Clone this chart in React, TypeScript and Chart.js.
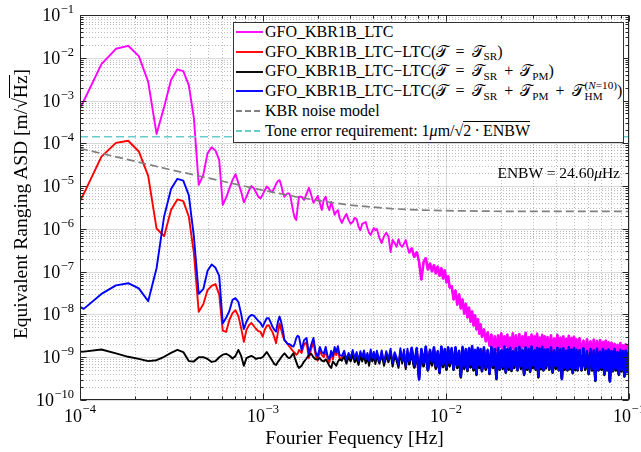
import React, { useEffect, useRef } from 'react';
import { Chart, registerables } from 'chart.js';

Chart.register(...registerables);

// ---------------- data ----------------
// frequency resolution of the spectra (Hz per bin)
const BIN_WIDTH_HZ = 2.62e-5;

// frequency bins (index k, f = k * BIN_WIDTH_HZ)
const FREQ_BINS = [
  3, 4, 5, 6, 7, 8, 9, 10, 11, 12, 13, 14, 15, 16, 17, 18, 19, 20, 21, 22, 23, 24, 25, 26, 27, 28, 29, 30, 31, 32,
  33, 34, 35, 36, 37, 38, 39, 40, 41, 42, 43, 44, 45, 46, 47, 48, 49, 50, 51, 52, 53, 54, 55, 56, 57, 58, 59, 60,
  62, 64, 66, 68, 70, 72, 74, 76, 78, 80, 82, 84, 86, 88, 90, 92, 94, 96, 98, 100,
  103, 106, 109, 112, 115, 118, 121, 124, 127, 130, 133, 136, 139, 142, 145, 148, 151, 154, 157, 160,
  165, 170, 175, 180, 185, 190, 195, 200, 205, 210, 215, 220, 225, 230, 235, 240,
  248, 256, 264, 272, 280, 288, 296, 304, 312, 320, 328, 336, 344, 352, 360, 368, 376, 384, 392, 400,
  410, 420, 430, 440, 450, 460, 470, 480, 490, 500, 510, 520, 530, 540, 550, 560, 570, 580, 590, 600,
  615, 630, 645, 660, 675, 690, 705, 720, 735, 750, 765, 780, 795, 810, 825, 840, 855, 870, 885, 900,
  920, 940, 960, 980, 1000, 1020, 1040, 1060, 1080, 1100, 1120, 1140, 1160, 1180, 1200, 1220, 1240, 1260, 1280, 1300, 1320, 1340,
  1370, 1400, 1430, 1460, 1490, 1520, 1550, 1580, 1610, 1640, 1670, 1700, 1730, 1760, 1790, 1820, 1850, 1880, 1910, 1940, 1970, 2000,
  2050, 2100, 2150, 2200, 2250, 2300, 2350, 2400, 2450, 2500, 2550, 2600, 2650, 2700, 2750, 2800, 2850, 2900, 2950, 3000,
  3060, 3120, 3180, 3240, 3300, 3360, 3420, 3480, 3540, 3600, 3660, 3720, 3780, 3840,
];

// bins from which the spectra form a dense noise band
const DENSE_FROM_BIN = 240;

// log10 of ASD [m/sqrt(Hz)] : GFO_KBR1B_LTC (magenta)
const LTC_LOG_ASD = [
  -4.02, -3.01, -2.15, -1.79, -1.72, -1.96, -2.56, -3.78, -3.15, -2.52,
  -2.27, -2.31, -2.64, -3.41, -4.97, -4.74, -4.23, -4.09, -4.17, -4.39,
  -5.44, -5.27, -5.06, -4.86, -4.72, -4.93, -5.13, -5.38, -5.25, -5.10,
  -5.00, -5.05, -5.15, -5.25, -5.29, -5.20, -5.10, -5.01, -5.05, -5.12,
  -5.13, -5.05, -4.95, -4.88, -4.86, -4.98, -5.15, -5.25, -5.20, -5.17,
  -5.17, -5.25, -5.45, -5.62, -5.75, -5.79, -5.50, -5.25,
  -5.25, -5.32, -5.18, -5.04, -5.20, -5.39, -5.32, -5.23, -5.39, -5.56, -5.32, -5.25, -5.46, -5.56, -5.37, -5.51, -5.67, -5.60, -5.56, -5.74,
  -5.86, -5.74, -5.65, -5.79, -5.88, -5.84, -5.74, -5.77, -5.95, -6.03, -5.88, -5.86, -5.84, -5.98, -6.09, -6.14, -6.05, -5.98, -6.03, -6.00,
  -6.21, -6.33, -6.17, -6.09, -6.17, -6.54, -6.26, -6.33, -6.42, -6.24, -6.38, -6.42, -6.35, -6.26, -6.42, -6.56,
  -6.45, -6.66, -6.54, -6.77, -7.19, -6.77, -6.68, -6.96, -6.80, -7.00, -6.84, -7.05, -6.87, -7.10, -6.91, -7.17, -6.96, -7.26, -7.10, -7.38,
  -7.33, -7.66, -7.43, -7.78, -7.52, -7.87, -7.64, -7.99, -7.74, -8.08, -7.83, -8.18, -7.92, -8.27, -8.01, -8.36, -8.10, -8.46, -8.22, -8.53,
  -8.34, -8.64, -8.41, -8.74, -8.46, -8.81, -8.50, -8.83, -8.48, -8.78, -8.43, -8.83, -8.50, -8.76, -8.46, -8.85, -8.53, -8.81, -8.43, -8.83,
  -8.48, -8.81, -8.45, -8.85, -8.50, -8.78, -8.42, -8.83, -8.52, -8.88, -8.46, -8.80, -8.50, -8.86, -8.44, -8.79, -8.53, -8.84, -8.47, -8.90, -8.50, -8.82,
  -8.52, -8.85, -8.48, -8.88, -8.55, -8.82, -8.47, -8.90, -8.53, -8.84, -8.50, -8.87, -8.56, -8.83, -8.49, -8.91, -8.54, -8.86, -8.51, -8.88, -8.57, -8.85,
  -8.55, -8.88, -8.60, -8.92, -8.57, -8.87, -8.62, -8.93, -8.58, -8.89, -8.61, -8.95, -8.59, -8.90, -8.63, -8.92, -8.60, -8.94, -8.64, -8.91,
  -8.65, -8.94, -8.68, -8.91, -8.70, -8.96, -8.66, -8.93, -8.71, -8.97, -8.69, -8.92, -8.72, -8.95,
];

// LTC - LTC(T = T_SR) (red)
const RES_SR_LOG_ASD = [
  -6.20, -5.18, -4.31, -3.99, -3.94, -4.19, -4.76, -5.99, -6.17, -5.56,
  -5.31, -5.35, -5.71, -6.57, -7.94, -7.76, -7.43, -7.33, -7.29, -7.54,
  -8.38, -8.41, -8.13, -7.97, -7.90, -8.04, -8.32, -8.64, -8.36, -8.25,
  -8.20, -8.27, -8.34, -8.39, -8.41, -8.52, -8.36, -8.27, -8.25, -8.34,
  -8.41, -8.53, -8.67, -8.43, -8.21, -8.36, -8.50, -8.60, -8.64, -8.69,
  -8.74, -8.78, -8.83, -8.87, -8.90, -8.94, -8.92, -8.83,
  -8.90, -8.70, -8.65, -9.02, -8.80, -8.66, -8.95, -9.08, -8.85, -8.95, -9.00, -8.85, -9.03, -9.12, -8.92, -9.05, -8.85, -8.95, -8.82, -9.02,
  -9.02, -8.90, -9.10, -8.94, -9.06, -8.88, -9.08, -8.92, -9.12, -8.90, -9.04, -8.88, -9.09, -8.94, -9.13, -8.86, -9.06, -8.91, -9.10, -8.89,
  -9.12, -8.88, -9.15, -8.90, -9.08, -8.85, -9.16, -8.92, -9.04, -9.20, -8.84, -9.10, -8.86, -9.24, -8.85, -9.12,
  -8.82, -9.22, -8.83, -9.48, -8.84, -9.18, -8.80, -9.28, -8.86, -9.15, -8.81, -9.24, -8.88, -9.33, -8.79, -9.20, -8.84, -9.27, -8.80, -9.18,
  -8.82, -9.26, -8.80, -9.22, -8.87, -9.42, -8.79, -9.24, -8.84, -9.28, -8.82, -9.20, -8.78, -9.29, -8.86, -9.38, -8.81, -9.22, -8.84, -9.30,
  -8.80, -9.27, -8.85, -9.36, -8.79, -9.22, -8.84, -9.46, -8.81, -9.26, -8.86, -9.24, -8.78, -9.33, -8.84, -9.26, -8.81, -9.28, -8.88, -9.22,
  -8.82, -9.28, -8.79, -9.24, -8.85, -9.38, -8.80, -9.27, -8.84, -9.31, -8.78, -9.22, -8.86, -9.26, -8.81, -9.42, -8.83, -9.26, -8.79, -9.28, -8.84, -9.24,
  -8.84, -9.26, -8.80, -9.33, -8.86, -9.24, -8.81, -9.28, -8.84, -9.48, -8.82, -9.27, -8.87, -9.28, -8.80, -9.26, -8.84, -9.34, -8.81, -9.28, -8.85, -9.28,
  -8.85, -9.28, -8.82, -9.27, -8.88, -9.36, -8.84, -9.29, -8.86, -9.50, -8.83, -9.28, -8.89, -9.28, -8.84, -9.38, -8.87, -9.29, -8.85, -9.52,
  -8.87, -9.30, -8.84, -9.30, -8.90, -9.38, -8.86, -9.31, -8.88, -9.42, -8.86, -9.33, -8.91, -9.38,
];

// LTC - LTC(T = T_SR + T_PM) (black)
const RES_SR_PM_LOG_ASD = [
  -8.88, -8.87, -8.82, -8.91, -8.99, -9.04, -9.09, -9.07, -8.99, -8.90,
  -8.83, -8.88, -9.09, -9.10, -9.00, -9.00, -9.04, -9.11, -9.09, -9.00,
  -8.94, -8.92, -8.96, -9.03, -8.97, -8.83, -8.97, -9.20, -9.02, -8.99,
  -8.97, -9.00, -9.04, -9.02, -9.02, -9.00, -8.94, -8.88, -8.95, -9.02,
  -9.09, -9.16, -9.18, -9.11, -9.06, -9.00, -8.95, -8.91, -8.95, -9.00,
  -9.02, -9.00, -8.95, -8.91, -9.02, -9.11, -9.20, -9.25,
  -9.20, -9.10, -9.03, -8.95, -8.92, -9.00, -9.05, -9.05, -9.02, -9.08, -9.10, -9.05, -9.12, -9.20, -9.25, -9.10, -9.15, -9.20, -9.10, -9.05,
  -9.08, -8.98, -9.15, -9.00, -9.10, -8.95, -9.12, -9.02, -9.18, -8.98, -9.10, -8.96, -9.14, -9.00, -9.20, -8.95, -9.10, -8.99, -9.16, -8.97,
  -9.15, -8.95, -9.20, -8.97, -9.12, -8.92, -9.22, -8.98, -9.08, -9.25, -8.90, -9.15, -8.94, -9.28, -8.92, -9.17,
  -8.90, -9.25, -8.92, -9.40, -8.93, -9.22, -8.88, -9.32, -8.95, -9.20, -8.90, -9.28, -8.96, -9.38, -8.88, -9.24, -8.92, -9.30, -8.89, -9.22,
  -8.90, -9.30, -8.88, -9.26, -8.94, -9.48, -8.87, -9.28, -8.92, -9.33, -8.90, -9.25, -8.86, -9.32, -8.93, -9.42, -8.89, -9.26, -8.92, -9.34,
  -8.88, -9.30, -8.93, -9.40, -8.87, -9.26, -8.92, -9.52, -8.89, -9.30, -8.94, -9.28, -8.86, -9.37, -8.92, -9.30, -8.89, -9.33, -8.95, -9.26,
  -8.90, -9.32, -8.87, -9.28, -8.93, -9.42, -8.88, -9.30, -8.92, -9.35, -8.86, -9.26, -8.94, -9.30, -8.89, -9.48, -8.91, -9.29, -8.87, -9.32, -8.92, -9.27,
  -8.92, -9.30, -8.88, -9.37, -8.94, -9.28, -8.89, -9.32, -8.92, -9.50, -8.90, -9.30, -8.95, -9.32, -8.88, -9.29, -8.92, -9.38, -8.89, -9.31, -8.93, -9.32,
  -8.93, -9.32, -8.90, -9.30, -8.96, -9.40, -8.92, -9.32, -8.94, -9.56, -8.91, -9.32, -8.97, -9.30, -8.92, -9.42, -8.95, -9.32, -8.93, -9.55,
  -8.95, -9.34, -8.92, -9.32, -8.98, -9.42, -8.94, -9.34, -8.96, -9.46, -8.94, -9.36, -8.99, -9.42,
];

// LTC - LTC(T = T_SR + T_PM + T_HM(N=10)) (blue)
const RES_SR_PM_HM_LOG_ASD = [
  -7.59, -7.87, -7.52, -7.32, -7.27, -7.39, -7.69, -6.92, -5.71, -5.07,
  -4.83, -4.87, -5.21, -6.18, -7.52, -7.41, -6.98, -6.83, -6.91, -7.10,
  -8.21, -8.08, -7.92, -7.66, -7.62, -7.71, -7.99, -8.34, -8.17, -8.06,
  -8.01, -8.03, -8.09, -8.15, -8.20, -8.29, -8.18, -8.09, -8.09, -8.18,
  -8.29, -8.36, -8.40, -8.18, -8.05, -8.18, -8.36, -8.60, -8.64, -8.69,
  -8.69, -8.71, -8.74, -8.75, -8.67, -8.55, -8.50, -8.52,
  -8.83, -8.60, -8.55, -8.92, -8.71, -8.55, -8.88, -8.99, -8.76, -8.88, -8.92, -8.76, -8.97, -9.04, -8.85, -8.97, -8.76, -8.88, -8.74, -8.95,
  -8.97, -8.85, -9.06, -8.90, -9.02, -8.83, -9.04, -8.88, -9.08, -8.86, -9.00, -8.84, -9.05, -8.90, -9.09, -8.82, -9.02, -8.87, -9.06, -8.85,
  -9.10, -8.84, -9.12, -8.86, -9.05, -8.80, -9.14, -8.88, -9.00, -9.18, -8.79, -9.08, -8.82, -9.22, -8.80, -9.10,
  -8.77, -9.20, -8.78, -9.53, -8.80, -9.15, -8.74, -9.30, -8.82, -9.12, -8.76, -9.22, -8.85, -9.35, -8.74, -9.18, -8.80, -9.25, -8.76, -9.15,
  -8.78, -9.28, -8.76, -9.20, -8.84, -9.45, -8.75, -9.22, -8.80, -9.30, -8.78, -9.18, -8.73, -9.27, -8.82, -9.40, -8.77, -9.20, -8.80, -9.32,
  -8.76, -9.25, -8.82, -9.38, -8.75, -9.20, -8.80, -9.50, -8.77, -9.28, -8.83, -9.22, -8.74, -9.35, -8.80, -9.24, -8.77, -9.30, -8.85, -9.20,
  -8.78, -9.30, -8.75, -9.22, -8.82, -9.40, -8.76, -9.26, -8.80, -9.33, -8.74, -9.20, -8.83, -9.28, -8.77, -9.45, -8.79, -9.24, -8.75, -9.30, -8.81, -9.22,
  -8.80, -9.28, -8.76, -9.35, -8.83, -9.22, -8.77, -9.30, -8.80, -9.52, -8.78, -9.25, -8.84, -9.30, -8.76, -9.24, -8.81, -9.36, -8.77, -9.27, -8.82, -9.30,
  -8.82, -9.30, -8.78, -9.25, -8.85, -9.38, -8.80, -9.28, -8.83, -9.55, -8.79, -9.30, -8.86, -9.26, -8.80, -9.40, -8.84, -9.30, -8.81, -9.58,
  -8.84, -9.32, -8.80, -9.28, -8.87, -9.40, -8.82, -9.30, -8.85, -9.45, -8.83, -9.35, -8.88, -9.40,
];

// KBR noise model (gray dashed)
const KBR_MODEL_FREQ = [1e-4, 1.5e-4, 2e-4, 3e-4, 5e-4, 7e-4, 1e-3, 1.5e-3, 2e-3, 3e-3, 5e-3, 7e-3, 1e-2, 2e-2, 5e-2, 1e-1];
const KBR_MODEL_LOG_ASD = [-4.12, -4.295, -4.42, -4.6, -4.81, -4.95, -5.096, -5.246, -5.339, -5.445, -5.527, -5.557, -5.575, -5.589, -5.592, -5.593];

// Tone error requirement: 1 um / sqrt(2 * ENBW)
const TONE_REQ_FREQ = [1e-4, 1e-1];
const TONE_REQ_ASD = 1.426e-4;

// axes
const X_DECADES = [-4, -3, -2, -1];
const Y_DECADES = [-10, -9, -8, -7, -6, -5, -4, -3, -2, -1];
const MINOR_MULTIPLIERS = [2, 3, 4, 5, 6, 7, 8, 9];

const FONT = '"Liberation Serif", "Times New Roman", serif';
const MINUS = '\u2212';
const LINE_W = 1.9;
const DENSE_LINE_W = 2.5;

function toPoints(logs: number[]) {
  return FREQ_BINS.map((k, i) => ({ x: k * BIN_WIDTH_HZ, y: Math.pow(10, logs[i]) }));
}

const axesPlugin = {
  id: 'matlabAxes',
  beforeDatasetsDraw(chart: any) {
    const { ctx, chartArea: a } = chart;
    const xs = chart.scales.x;
    const ys = chart.scales.y;
    ctx.save();
    ctx.lineWidth = 1;
    const vline = (v: number) => {
      const px = Math.round(xs.getPixelForValue(v)) + 0.5;
      ctx.beginPath();
      ctx.moveTo(px, a.top);
      ctx.lineTo(px, a.bottom);
      ctx.stroke();
    };
    const hline = (v: number) => {
      const py = Math.round(ys.getPixelForValue(v)) + 0.5;
      ctx.beginPath();
      ctx.moveTo(a.left, py);
      ctx.lineTo(a.right, py);
      ctx.stroke();
    };
    // minor grid (dotted)
    ctx.strokeStyle = 'rgba(38,38,38,0.3)';
    ctx.setLineDash([1, 2]);
    X_DECADES.slice(0, -1).forEach((d) => MINOR_MULTIPLIERS.forEach((m) => vline(m * Math.pow(10, d))));
    Y_DECADES.slice(0, -1).forEach((d) => MINOR_MULTIPLIERS.forEach((m) => hline(m * Math.pow(10, d))));
    // major grid
    ctx.setLineDash([]);
    ctx.strokeStyle = 'rgba(38,38,38,0.17)';
    X_DECADES.forEach((d) => vline(Math.pow(10, d)));
    Y_DECADES.forEach((d) => hline(Math.pow(10, d)));
    ctx.restore();
  },
  afterDatasetsDraw(chart: any) {
    const { ctx, chartArea: a } = chart;
    const xs = chart.scales.x;
    const ys = chart.scales.y;
    ctx.save();
    ctx.setLineDash([]);
    ctx.strokeStyle = '#262626';
    ctx.lineWidth = 1;
    const L = Math.round(a.left) + 0.5;
    const R = Math.round(a.right) - 0.5;
    const T = Math.round(a.top) + 0.5;
    const B = Math.round(a.bottom) - 0.5;
    ctx.strokeRect(L, T, R - L, B - T);
    const xtick = (v: number, len: number) => {
      const px = Math.round(xs.getPixelForValue(v)) + 0.5;
      ctx.beginPath();
      ctx.moveTo(px, B);
      ctx.lineTo(px, B - len);
      ctx.moveTo(px, T);
      ctx.lineTo(px, T + len);
      ctx.stroke();
    };
    const ytick = (v: number, len: number) => {
      const py = Math.round(ys.getPixelForValue(v)) + 0.5;
      ctx.beginPath();
      ctx.moveTo(L, py);
      ctx.lineTo(L + len, py);
      ctx.moveTo(R, py);
      ctx.lineTo(R - len, py);
      ctx.stroke();
    };
    X_DECADES.slice(0, -1).forEach((d) => MINOR_MULTIPLIERS.forEach((m) => xtick(m * Math.pow(10, d), 3)));
    Y_DECADES.slice(0, -1).forEach((d) => MINOR_MULTIPLIERS.forEach((m) => ytick(m * Math.pow(10, d), 3)));
    X_DECADES.forEach((d) => xtick(Math.pow(10, d), 6));
    Y_DECADES.forEach((d) => ytick(Math.pow(10, d), 6));

    // tick labels 10^n
    const baseFont = `18px ${FONT}`;
    const supFont = `12.5px ${FONT}`;
    ctx.fillStyle = '#000';
    ctx.textBaseline = 'alphabetic';
    ctx.textAlign = 'left';
    Y_DECADES.forEach((d) => {
      const py = ys.getPixelForValue(Math.pow(10, d));
      const sup = MINUS + Math.abs(d);
      ctx.font = supFont;
      const sw = ctx.measureText(sup).width;
      ctx.font = baseFont;
      const bw = ctx.measureText('10').width;
      const right = a.left - 6;
      ctx.fillText('10', right - sw - bw - 0.5, py + 6);
      ctx.font = supFont;
      ctx.fillText(sup, right - sw, py - 2);
    });
    X_DECADES.forEach((d) => {
      const px = xs.getPixelForValue(Math.pow(10, d));
      const sup = MINUS + Math.abs(d);
      ctx.font = supFont;
      const sw = ctx.measureText(sup).width;
      ctx.font = baseFont;
      const bw = ctx.measureText('10').width;
      const start = px - (sw + bw + 0.5) / 2;
      ctx.fillText('10', start, a.bottom + 21.5);
      ctx.font = supFont;
      ctx.fillText(sup, start + bw + 0.5, a.bottom + 13);
    });
    ctx.restore();
  },
};

const CAL_T = '\u{1D4AF}';

function Sub({ children }: any) {
  return <span style={{ fontSize: '0.7em', position: 'relative', top: '0.32em' }}>{children}</span>;
}

function Op({ children }: any) {
  return <span style={{ margin: '0 0.44em' }}>{children}</span>;
}

function HMTerm() {
  return (
    <span style={{ position: 'relative', display: 'inline-block' }}>
      {CAL_T}
      <span style={{ position: 'relative', display: 'inline-block', marginLeft: 1 }}>
        <span style={{ fontSize: '0.7em', position: 'relative', top: '-0.62em' }}>
          (<i>N</i>=10)
        </span>
        <span style={{ fontSize: '0.7em', position: 'absolute', left: 0, top: '0.42em' }}>HM</span>
      </span>
    </span>
  );
}

function Sample({ y, color, dash }: any) {
  return (
    <svg width={27} height={6} style={{ position: 'absolute', left: 236, top: y - 3 }}>
      <line x1={0} y1={3} x2={27} y2={3} stroke={color} strokeWidth={LINE_W} strokeDasharray={dash} />
    </svg>
  );
}

const LEG_FONT = 16;
function Row({ baseline, children }: any) {
  return (
    <div
      style={{
        position: 'absolute',
        left: 265,
        top: baseline - 0.8375 * LEG_FONT,
        fontSize: LEG_FONT,
        lineHeight: `${LEG_FONT}px`,
        whiteSpace: 'nowrap',
      }}
    >
      {children}
    </div>
  );
}

export default function App() {
  const canvasRef = useRef<HTMLCanvasElement>(null);

  useEffect(() => {
    const canvas = canvasRef.current;
    if (!canvas) return;
    const line = (label: string, data: any[], color: string, extra: any = {}) => ({
      label,
      data,
      borderColor: color,
      backgroundColor: color,
      borderWidth: LINE_W,
      pointRadius: 0,
      fill: false,
      tension: 0,
      borderJoinStyle: 'round',
      ...extra,
    });
    const denseStart = FREQ_BINS.findIndex((k) => k >= DENSE_FROM_BIN);
    // each spectrum: full trace plus a heavier stroke over its dense (noise-band) part
    const spectrum = (label: string, logs: number[], color: string) => {
      const pts = toPoints(logs);
      return [
        line(label + ' (band)', pts.slice(denseStart), color, { borderWidth: DENSE_LINE_W, borderJoinStyle: 'bevel' }),
        line(label, pts, color),
      ];
    };
    const chart = new Chart(canvas, {
      type: 'line',
      data: {
        datasets: [
          line('Tone error requirement', TONE_REQ_FREQ.map((f) => ({ x: f, y: TONE_REQ_ASD })), '#66CCCC', { borderDash: [8, 4], borderWidth: 1.7 }),
          line('KBR noise model', KBR_MODEL_FREQ.map((f, i) => ({ x: f, y: Math.pow(10, KBR_MODEL_LOG_ASD[i]) })), '#808080', { borderDash: [8, 4], borderWidth: 1.7 }),
          ...spectrum('LTC-LTC(SR+PM+HM)', RES_SR_PM_HM_LOG_ASD, '#0000FF'),
          ...spectrum('LTC-LTC(SR+PM)', RES_SR_PM_LOG_ASD, '#000000'),
          ...spectrum('LTC-LTC(SR)', RES_SR_LOG_ASD, '#FF0000'),
          ...spectrum('GFO_KBR1B_LTC', LTC_LOG_ASD, '#FF00FF'),
        ],
      },
      options: {
        animation: false,
        responsive: false,
        maintainAspectRatio: false,
        events: [],
        layout: { padding: { left: 80, right: 12, top: 15, bottom: 52 } },
        plugins: { legend: { display: false }, tooltip: { enabled: false }, title: { display: false } },
        scales: {
          x: { type: 'logarithmic', min: 1e-4, max: 1e-1, display: false },
          y: { type: 'logarithmic', min: 1e-10, max: 1e-1, display: false },
        },
      } as any,
      plugins: [axesPlugin],
    } as any);
    return () => chart.destroy();
  }, []);

  return (
    <div
      style={{
        position: 'absolute',
        left: 0,
        top: 0,
        width: 641,
        height: 452,
        background: '#fff',
        fontFamily: FONT,
        color: '#000',
        overflow: 'hidden',
      }}
    >
      <canvas ref={canvasRef} width={641} height={452} style={{ position: 'absolute', left: 0, top: 0, width: 641, height: 452 }} />

      {/* y-axis title */}
      <div
        style={{
          position: 'absolute',
          left: 21.4 - 160,
          top: 203.5 - 10,
          width: 320,
          height: 20,
          lineHeight: '20px',
          fontSize: 19.5,
          textAlign: 'center',
          whiteSpace: 'nowrap',
          transform: 'rotate(-90deg)',
        }}
      >
        Equivalent Ranging ASD [m/{'\u221A'}
        <span style={{ borderTop: '1px solid #000' }}>Hz</span>]
      </div>

      {/* x-axis title */}
      <div
        style={{
          position: 'absolute',
          left: 354.5 - 160,
          top: 444 - 16.33,
          width: 320,
          lineHeight: '19.5px',
          fontSize: 19.5,
          textAlign: 'center',
          whiteSpace: 'nowrap',
        }}
      >
        Fourier Fequency [Hz]
      </div>

      {/* ENBW annotation */}
      <div
        style={{
          position: 'absolute',
          right: 21,
          top: 178 - 12.98,
          fontSize: 15.5,
          lineHeight: '15.5px',
          whiteSpace: 'nowrap',
        }}
      >
        ENBW = 24.60<i>{'\u03BC'}</i>Hz
      </div>

      {/* legend */}
      <div
        style={{
          position: 'absolute',
          left: 233,
          top: 22,
          width: 391,
          height: 121,
          boxSizing: 'border-box',
          border: '1.5px solid #333',
          background: '#fff',
        }}
      />
      <Sample y={32.3} color="#FF00FF" />
      <Sample y={52.3} color="#FF0000" />
      <Sample y={71.5} color="#000000" />
      <Sample y={91} color="#0000FF" />
      <Sample y={110.5} color="#808080" dash="6 3" />
      <Sample y={131} color="#66CCCC" dash="6 3" />
      <Row baseline={37.3}>GFO_KBR1B_LTC</Row>
      <Row baseline={57.3}>
        GFO_KBR1B_LTC{MINUS}LTC({CAL_T}<Op>=</Op>{CAL_T}
        <Sub>SR</Sub>)
      </Row>
      <Row baseline={76.7}>
        GFO_KBR1B_LTC{MINUS}LTC({CAL_T}<Op>=</Op>{CAL_T}
        <Sub>SR</Sub><Op>+</Op>{CAL_T}
        <Sub>PM</Sub>)
      </Row>
      <Row baseline={96.5}>
        GFO_KBR1B_LTC{MINUS}LTC({CAL_T}<Op>=</Op>{CAL_T}
        <Sub>SR</Sub><Op>+</Op>{CAL_T}
        <Sub>PM</Sub><Op>+</Op><HMTerm />)
      </Row>
      <Row baseline={116}>KBR noise model</Row>
      <Row baseline={136.5}>
        Tone error requirement: 1<i>{'\u03BC'}</i>m/{'\u221A'}
        <span style={{ borderTop: '1px solid #000' }}>2{'\u2009\u00B7\u2009'}ENBW</span>
      </Row>
    </div>
  );
}
